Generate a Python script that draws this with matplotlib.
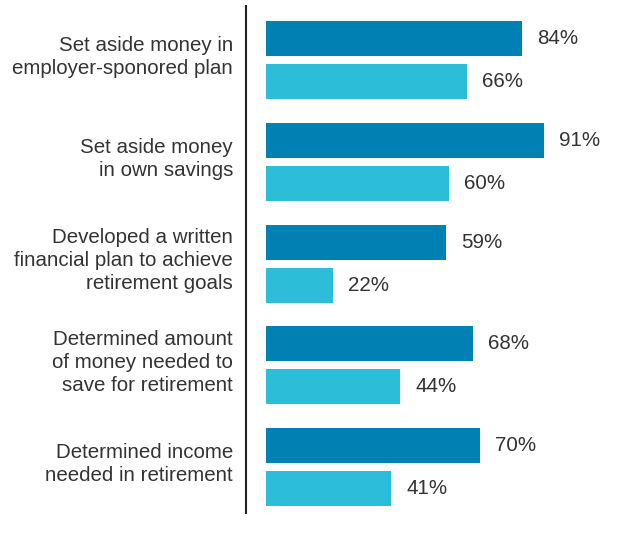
import matplotlib
matplotlib.use("Agg")
import matplotlib.pyplot as plt
import numpy as np

categories = [
    "Set aside money in\nemployer-sponored plan",
    "Set aside money\nin own savings",
    "Developed a written\nfinancial plan to achieve\nretirement goals",
    "Determined amount\nof money needed to\nsave for retirement",
    "Determined income\nneeded in retirement",
]
series_a = [84, 91, 59, 68, 70]
series_b = [66, 60, 22, 44, 41]

dark = "#0080B3"
light = "#2CBED9"
txt = "#333333"

plt.rcParams['font.family'] = ['Liberation Sans', 'DejaVu Sans']

W, H = 633, 535
fig = plt.figure(figsize=(W / 100, H / 100), dpi=100)
ax_left_px, ax_top_px, ax_bottom_px = 246, 6, 513
ax = fig.add_axes([ax_left_px / W, 1 - ax_bottom_px / H, 1 - ax_left_px / W, (ax_bottom_px - ax_top_px) / H])

scale = 3.05  # px per percent
x0 = -20 / scale
xmax = (W - 266) / scale
ax.set_xlim(x0, xmax)
pitch = 101.75
ytop = -54 / pitch
ybot = ytop + (ax_bottom_px - ax_top_px) / pitch
ax.set_ylim(ybot, ytop)

y = np.arange(len(categories))
h = 35 / pitch
off = 21.5 / pitch
ax.barh(y - off, series_a, height=h, color=dark, left=0)
ax.barh(y + off, series_b, height=h, color=light, left=0)

fs = 14.8
for yi, a, b in zip(y, series_a, series_b):
    ax.text(a + 15 / scale, yi - off, f"{a}%", va="center", ha="left", fontsize=fs, color=txt)
    ax.text(b + 15 / scale, yi + off, f"{b}%", va="center", ha="left", fontsize=fs, color=txt)

for yi, c in zip(y, categories):
    ax.text(x0 - 13 / scale, yi - 3 / pitch, c, va="center", ha="right", fontsize=fs, color=txt,
            linespacing=1.25)

for s in ["top", "right", "bottom"]:
    ax.spines[s].set_visible(False)
ax.spines["left"].set_color("#222222")
ax.spines["left"].set_linewidth(1.5)
ax.set_xticks([])
ax.set_yticks([])

fig.savefig("out.png", dpi=100)
